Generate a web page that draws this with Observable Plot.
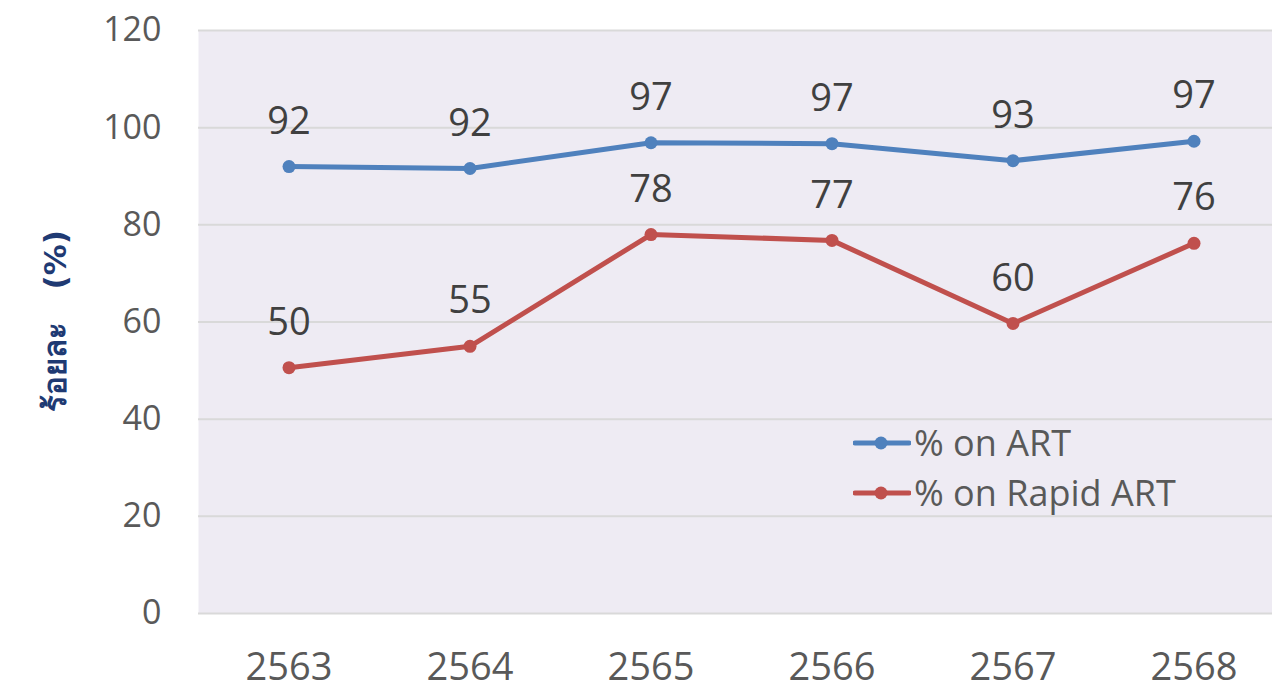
<!DOCTYPE html>
<html>
<head>
<meta charset="utf-8">
<script src="https://cdn.jsdelivr.net/npm/d3@7"></script>
<script src="https://cdn.jsdelivr.net/npm/@observablehq/plot@0.6"></script>
<style>
  html, body { margin: 0; padding: 0; background: #fff; overflow: hidden; }
  #wrap { position: relative; width: 1272px; height: 690px; }
  #legend { position: absolute; left: 853px; top: 418px; font-family: "Open Sans", sans-serif; font-size: 36px; color: #595959; line-height: 50px; }
  #legend .row { display: flex; align-items: center; }
  #legend svg { margin-right: 3px; }
  #ytitle { position: absolute; left: 55px; top: 321px; transform: translate(-50%, -50%) rotate(-90deg); white-space: pre; font-family: "DejaVu Sans", sans-serif; font-size: 31px; font-weight: bold; color: #1F3A73; line-height: 1; }
</style>
</head>
<body>
<div id="wrap"></div>
<script>
const years = ["2563", "2564", "2565", "2566", "2567", "2568"];
const seriesNames = ["% on ART", "% on Rapid ART"];
const onART = [92, 91.6, 96.9, 96.7, 93.2, 97.2];
const onRapidART = [50.6, 55, 78, 76.8, 59.7, 76.2];
const labelsART = ["92", "92", "97", "97", "93", "97"];
const labelsRapid = ["50", "55", "78", "77", "60", "76"];
const yTicks = [0, 20, 40, 60, 80, 100, 120];
const yTitle = "ร้อยละ   (%)";
const colors = ["#4F81BD", "#C0504D"];

const data = [];
years.forEach((y, i) => {
  data.push({year: y, series: seriesNames[0], value: onART[i], label: labelsART[i]});
  data.push({year: y, series: seriesNames[1], value: onRapidART[i], label: labelsRapid[i]});
});

const font = "'Open Sans', sans-serif";
const chart = Plot.plot({
  width: 1272,
  height: 690,
  marginLeft: 198,
  marginRight: -12,
  marginTop: 30,
  marginBottom: 77,
  style: {fontFamily: font, background: "transparent", overflow: "visible"},
  x: {domain: years, type: "band", padding: 0},
  y: {domain: [0, 120], ticks: yTicks},
  color: {domain: seriesNames, range: colors},
  marks: [
    Plot.frame({fill: "#EEEBF3", stroke: null}),
    Plot.gridY(yTicks.filter(d => d > 0), {stroke: "#D9D9D9", strokeOpacity: 1, strokeWidth: 2}),
    Plot.ruleY([0], {stroke: "#D9D9D9", strokeWidth: 2}),
    Plot.axisY({ticks: yTicks, tickSize: 0, tickPadding: 37, fontSize: 34, fill: "#595959", label: null}),
    Plot.axisX({tickSize: 0, tickPadding: 40, fontSize: 38, fill: "#595959", label: null}),
    Plot.line(data, {x: "year", y: "value", z: "series", stroke: "series", strokeWidth: 5}),
    Plot.dot(data, {x: "year", y: "value", fill: "series", r: 6.5}),
    Plot.text(data, {x: "year", y: "value", text: "label", dy: -45, fontSize: 38, fill: "#404040"})
  ]
});
const wrap = document.getElementById("wrap");
wrap.appendChild(chart);

const title = document.createElement("div");
title.id = "ytitle";
title.textContent = yTitle;
wrap.appendChild(title);

const legend = document.createElement("div");
legend.id = "legend";
seriesNames.forEach((name, i) => {
  const row = document.createElement("div");
  row.className = "row";
  row.innerHTML = `<svg width="58" height="16"><line x1="2" y1="8" x2="56" y2="8" stroke="${colors[i]}" stroke-width="5" stroke-linecap="round"/><circle cx="28" cy="8" r="6.5" fill="${colors[i]}"/></svg><span>${name}</span>`;
  legend.appendChild(row);
});
wrap.appendChild(legend);
</script>
</body>
</html>
